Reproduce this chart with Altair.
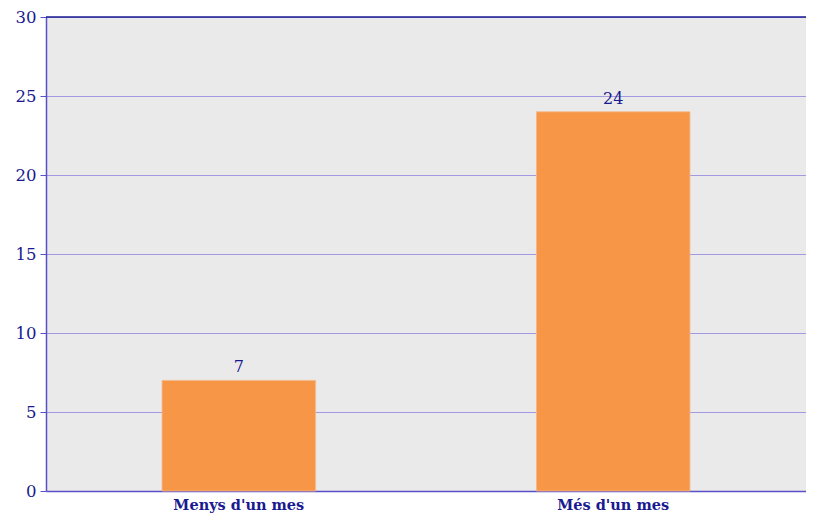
import altair as alt
import pandas as pd

categories = ["Menys d'un mes", "Més d'un mes"]
values = [7, 24]

df = pd.DataFrame({"cat": categories, "val": values})

W, H = 760, 474
blue = "#1a1a90"
axis_col = "#5a50c8"

base = alt.Chart(df)

bars = base.mark_bar(color="#F79646", stroke="#f4b98a", strokeWidth=0.8).encode(
    x=alt.X("cat:N", sort=categories, title=None,
            scale=alt.Scale(paddingInner=0.59, paddingOuter=0.31),
            axis=alt.Axis(labelAngle=0, ticks=False, labelFont="DejaVu Serif",
                          labelFontWeight="bold", labelFontSize=14.5, labelColor=blue,
                          labelPadding=7, domainColor=axis_col, domainWidth=1.5, grid=False)),
    y=alt.Y("val:Q", title=None,
            scale=alt.Scale(domain=[0, 30], nice=False),
            axis=alt.Axis(values=[0, 5, 10, 15, 20, 25, 30], labelFont="DejaVu Serif",
                          labelFontSize=16.5, labelColor=blue, labelPadding=4,
                          tickSize=6, tickColor=axis_col, domainColor=axis_col,
                          domainWidth=1.5, gridColor="#a29ae0", gridWidth=1,
                          gridOpacity=1)),
)

labels = base.mark_text(baseline="bottom", dy=-5, font="DejaVu Serif",
                        fontSize=16, color=blue).encode(
    x=alt.X("cat:N", sort=categories),
    y="val:Q",
    text="val:Q",
)

top = alt.Chart(df).mark_rule(color=blue, strokeWidth=1.2).encode(
    y=alt.value(0), x=alt.value(0), x2=alt.value(W)
)

chart = alt.layer(bars, labels, top).properties(
    width=W, height=H,
    background="white",
    autosize=alt.AutoSizeParams(type="none"),
    padding={"left": 38, "top": 9, "right": 0, "bottom": 22},
).configure_view(fill="#eaeaea", stroke=None)

chart.save("out.html", embed_options={"renderer": "svg", "actions": False})
